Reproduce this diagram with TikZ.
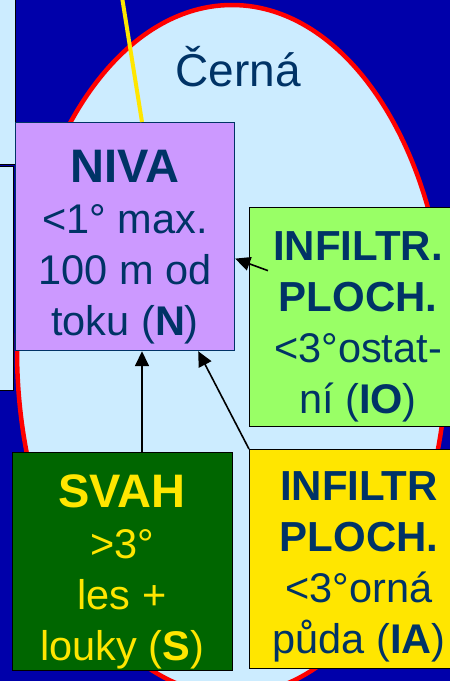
\documentclass[tikz,border=0pt]{standalone}
\usepackage{fontspec}
\setmainfont{Liberation Sans}
\usetikzlibrary{arrows.meta,calc}
\definecolor{bgblue}{HTML}{0000AA}
\definecolor{lightb}{HTML}{CCECFF}
\definecolor{navy}{HTML}{003366}
\definecolor{lilac}{HTML}{CC99FF}
\definecolor{lgreen}{HTML}{99FF66}
\definecolor{dgreen}{HTML}{006600}
\definecolor{yel}{HTML}{FFE600}
\begin{document}
\begin{tikzpicture}[x=1pt,y=-1pt,
  boxshape/.style={draw=black, line width=1.3pt, anchor=north west, inner sep=0pt},
  boxtext/.style={anchor=base, align=center, inner sep=0pt, font=\fontsize{41.5}{51}\selectfont},
  arr/.style={draw=black, line width=1.6pt, -{Triangle[length=15pt,width=14pt]}}]
\useasboundingbox (0,0) rectangle (450,681);
\clip (0,0) rectangle (450,681);
\fill[bgblue] (-5,-5) rectangle (455,686);
% river basin ellipse
\draw[red, line width=4.5pt, fill=lightb] (232,350) ellipse [x radius=215pt, y radius=345pt];
% left cut-off boxes
\node[boxshape, fill=lightb, minimum width=20pt, minimum height=169pt] (leftA) at (-5,-5) {};
\node[boxshape, fill=lightb, minimum width=18pt, minimum height=224pt] (leftB) at (-5,166) {};
% basin name
\node[anchor=base, text=navy, inner sep=0pt, font=\fontsize{46}{50}\selectfont] (cerna) at (238,86) {Černá};
% NIVA
\node[boxshape, draw=navy, line width=1.2pt, fill=lilac, minimum width=219pt, minimum height=228pt] (niva) at (15,122) {};
\coordinate (ytop) at (122,-3);
\draw[yel, line width=4pt] (ytop) -- ($(niva.north west)+(127,0)$);
\node[boxtext, text=navy] (nivat) at (125,335) {{\fontsize{47}{51}\selectfont\bfseries NIVA}\\<1° max.\\100 m od\\toku (\textbf{N})};
% IO
\node[boxshape, fill=lgreen, minimum width=218pt, minimum height=219pt] (io) at (249,207) {};
\node[boxtext, text=navy] (iot) at (358,413) {{\fontsize{42}{51}\selectfont\bfseries INFILTR.}\\{\fontsize{42}{51}\selectfont\bfseries PLOCH.}\\<3°ostat-\\ní (\textbf{IO})};
% SVAH
\node[boxshape, fill=dgreen, minimum width=220pt, minimum height=218pt] (svah) at (12,452) {};
\node[boxtext, text=yel] (svaht) at (122,660) {{\fontsize{47}{51}\selectfont\bfseries SVAH}\\>3°\\les +\\louky (\textbf{S})};
% IA
\node[boxshape, fill=yel, minimum width=218pt, minimum height=219pt] (ia) at (249,449) {};
\node[boxtext, text=navy] (iat) at (359,653) {{\fontsize{42}{51}\selectfont\bfseries INFILTR}\\{\fontsize{42}{51}\selectfont\bfseries PLOCH.}\\<3°orná\\půda (\textbf{IA})};
% arrows
\draw[arr] ($(svah.north west)+(130,0)$) -- ($(niva.south west)+(127,0)$);
\draw[arr] (ia.north west) -- ($(niva.south east)+(-37,0)$);
\draw[arr] ($(io.west)+(19,-46.5)$) -- ($(niva.east)+(0,22)$);
\end{tikzpicture}
\end{document}
